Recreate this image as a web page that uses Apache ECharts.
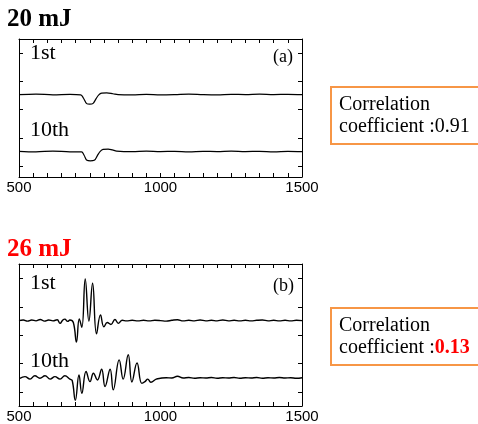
<!DOCTYPE html>
<html><head><meta charset="utf-8">
<script src="https://cdn.jsdelivr.net/npm/echarts@6/dist/echarts.min.js"></script>
<style>html,body{margin:0;padding:0;background:#fff}#c{width:478px;height:424px}</style>
</head><body><div id="c"></div>
<script>
const xTickLabels = [500, 1000, 1500];
const yTickValues = [0, 1, 2, 3, 4];
const panelTitles = ['20 mJ', '26 mJ'];
const panelTags = ['(a)', '(b)'];
const traceNames = ['1st', '10th'];
const corrValues = ['0.91', '0.13'];

// Panel (a) 20 mJ traces (arbitrary units, offset)
const trace20_1st = [[500,2.53],[560,2.55],[620,2.52],[680,2.54],[718,2.52],[728,2.4],[739,2.21],[750,2.19],[762,2.22],[772,2.38],[782,2.52],[792,2.58],[810,2.59],[832,2.56],[850,2.53],[900,2.52],[950,2.54],[1000,2.52],[1050,2.53],[1100,2.55],[1150,2.53],[1200,2.52],[1250,2.54],[1300,2.53],[1350,2.55],[1400,2.53],[1450,2.54],[1500,2.53]];
const trace20_10th = [[500,0.52],[560,0.5],[620,0.53],[680,0.5],[721,0.5],[730,0.38],[740,0.2],[752,0.18],[766,0.2],[777,0.37],[787,0.52],[797,0.59],[815,0.6],[830,0.57],[845,0.53],[900,0.51],[950,0.53],[1000,0.51],[1050,0.52],[1100,0.5],[1150,0.52],[1200,0.51],[1250,0.53],[1300,0.51],[1350,0.52],[1400,0.5],[1450,0.52],[1500,0.51]];

// Panel (b) 26 mJ traces
const trace26_1st = [[500,2.52],[515,2.54],[530,2.5],[545,2.54],[560,2.51],[575,2.56],[590,2.5],[605,2.54],[620,2.51],[635,2.55],[645,2.42],[655,2.54],[662,2.57],[672,2.49],[680,2.54],[692,2.45],[703,1.76],[713,2.58],[722,2.28],[734,3.99],[747,2.5],[760,3.84],[774,2.05],[788,2.72],[800,2.3],[812,2.45],[825,2.38],[839,2.56],[851,2.42],[865,2.53],[880,2.51],[900,2.53],[920,2.51],[940,2.53],[960,2.51],[980,2.53],[1000,2.52],[1020,2.5],[1040,2.53],[1060,2.55],[1080,2.51],[1100,2.53],[1120,2.51],[1140,2.54],[1160,2.51],[1180,2.53],[1200,2.51],[1220,2.54],[1240,2.51],[1260,2.53],[1280,2.51],[1300,2.53],[1320,2.51],[1340,2.53],[1360,2.54],[1380,2.51],[1400,2.53],[1420,2.51],[1440,2.53],[1460,2.51],[1480,2.53],[1500,2.52]];
const trace26_10th = [[503,0.48],[521,0.54],[539,0.45],[556,0.57],[574,0.48],[592,0.57],[610,0.45],[627,0.54],[645,0.45],[662,0.57],[680,0.45],[688,0.4],[699,-0.3],[712,0.6],[722,-0.05],[737,0.72],[751,0.36],[763,0.66],[777,0.42],[792,0.8],[804,0.19],[822,0.8],[833,0.07],[854,1.13],[868,0.45],[886,1.31],[899,0.35],[917,1.02],[934,0.3],[945,0.36],[955,0.45],[966,0.34],[985,0.45],[1000,0.48],[1020,0.5],[1040,0.49],[1060,0.55],[1080,0.49],[1100,0.51],[1120,0.48],[1140,0.5],[1160,0.49],[1180,0.51],[1200,0.48],[1220,0.5],[1240,0.49],[1260,0.51],[1280,0.48],[1300,0.5],[1320,0.49],[1340,0.51],[1360,0.48],[1380,0.5],[1400,0.49],[1420,0.51],[1440,0.49],[1460,0.5],[1480,0.48],[1500,0.5]];

const panelRanges = [[-0.39, 4.5], [-0.5, 4.52]];
const panelData = [[trace20_1st, trace20_10th], [trace26_1st, trace26_10th]];

const chart = echarts.init(document.getElementById('c'), null, {renderer: 'canvas'});
const black = '#000';
const grids = [
  {left: 19, top: 39, width: 283, height: 138},
  {left: 19, top: 264, width: 283, height: 142}
];
const xAxes = [], yAxes = [], series = [];
grids.forEach((g, gi) => {
  ['bottom', 'top'].forEach(pos => {
    xAxes.push({
      gridIndex: gi, type: 'value', position: pos, min: 500, max: 1500, interval: 50,
      axisLine: {show: true, onZero: false, lineStyle: {color: black, width: 1}},
      axisTick: {show: true, inside: true, length: 4, lineStyle: {color: black, width: 1}},
      axisLabel: {show: pos === 'bottom', margin: 3, color: black, fontFamily: 'Liberation Sans', fontSize: 15,
        formatter: v => xTickLabels.includes(v) ? String(v) : ''},
      splitLine: {show: false}
    });
  });
  ['left', 'right'].forEach(pos => {
    yAxes.push({
      gridIndex: gi, type: 'value', position: pos, min: panelRanges[gi][0], max: panelRanges[gi][1],
      axisLine: {show: true, onZero: false, lineStyle: {color: black, width: 1}},
      axisTick: {show: true, inside: true, length: 4, customValues: yTickValues, lineStyle: {color: black, width: 1}},
      axisLabel: {show: false},
      splitLine: {show: false}
    });
  });
  panelData[gi].forEach((d, si) => {
    series.push({
      type: 'line', xAxisIndex: gi * 2, yAxisIndex: gi * 2, data: d, showSymbol: false, smooth: gi === 0 ? 0.35 : 0.45,
      lineStyle: {color: black, width: gi === 0 ? 1.2 : 1.4}, silent: true
    });
  });
});

const serif = '"Liberation Serif", "Times New Roman", serif';
const graphics = [];
const titleY = [20, 250];
const titleColors = ['#000', '#ff0000'];
const nameY = [[53, 130], [283, 361]];
const tagY = [57, 286];
const boxY = [87, 308];
panelTitles.forEach((t, i) => {
  graphics.push({type: 'text', left: 7, top: titleY[i] - 13, style: {text: t, fill: titleColors[i], font: 'bold 25px ' + serif}});
  traceNames.forEach((n, j) => {
    graphics.push({type: 'text', left: 30, top: nameY[i][j] - 11, style: {text: n, fill: '#000', font: '22px ' + serif}});
  });
  graphics.push({type: 'text', left: 273, top: tagY[i] - 9, style: {text: panelTags[i], fill: '#000', font: '18px ' + serif}});
  graphics.push({type: 'rect', shape: {x: 331, y: boxY[i], width: 170, height: 57}, style: {fill: '#fff', stroke: '#f79646', lineWidth: 2}});
  graphics.push({type: 'text', x: 339, y: boxY[i] + 7, style: {
    text: 'Correlation\ncoefficient :{v|' + corrValues[i] + '}',
    fill: '#000', font: '20px ' + serif, lineHeight: 22,
    rich: {v: {fill: i === 1 ? '#ff0000' : '#000', fontWeight: i === 1 ? 'bold' : 'normal', fontFamily: serif, fontSize: 20, lineHeight: 22}}
  }});
});

chart.setOption({
  animation: false,
  backgroundColor: '#fff',
  grid: grids,
  xAxis: xAxes,
  yAxis: yAxes,
  series: series,
  graphic: graphics
});
</script></body></html>
